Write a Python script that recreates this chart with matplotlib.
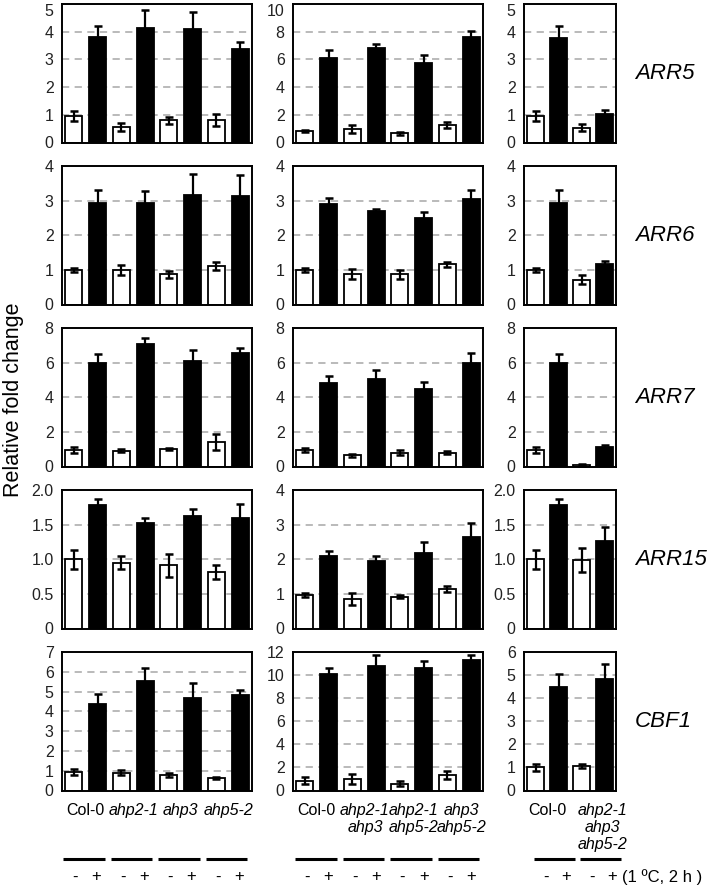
import matplotlib
matplotlib.use("Agg")
import matplotlib.pyplot as plt
import matplotlib.transforms as mtransforms
import numpy as np

plt.rcParams['font.family'] = ['Liberation Sans', 'DejaVu Sans']

genes = ['ARR5', 'ARR6', 'ARR7', 'ARR15', 'CBF1']

# single mutants: Col-0, ahp2-1, ahp3, ahp5-2  (-/+ cold for each)
single_labels = ['Col-0', 'ahp2-1', 'ahp3', 'ahp5-2']
single_mean = [
    [0.95, 3.80, 0.55, 4.12, 0.80, 4.08, 0.82, 3.36],
    [1.00, 2.93, 1.00, 2.92, 0.87, 3.15, 1.12, 3.12],
    [0.95, 5.95, 0.92, 7.05, 1.00, 6.10, 1.40, 6.55],
    [1.00, 1.79, 0.95, 1.53, 0.91, 1.62, 0.81, 1.60],
    [0.95, 4.35, 0.90, 5.55, 0.80, 4.65, 0.65, 4.85],
]
single_err = [
    [0.17, 0.41, 0.14, 0.68, 0.13, 0.63, 0.22, 0.27],
    [0.06, 0.37, 0.14, 0.35, 0.10, 0.62, 0.11, 0.62],
    [0.17, 0.56, 0.08, 0.40, 0.06, 0.65, 0.46, 0.31],
    [0.135, 0.08, 0.09, 0.06, 0.165, 0.10, 0.10, 0.20],
    [0.15, 0.55, 0.14, 0.62, 0.10, 0.80, 0.05, 0.23],
]

# double mutants
double_labels = ['Col-0', 'ahp2-1\nahp3', 'ahp2-1\nahp5-2', 'ahp3\nahp5-2']
double_mean = [
    [0.85, 6.10, 0.95, 6.80, 0.65, 5.75, 1.25, 7.60],
    [1.00, 2.90, 0.88, 2.70, 0.88, 2.50, 1.16, 3.05],
    [0.95, 4.85, 0.65, 5.05, 0.80, 4.45, 0.80, 5.95],
    [0.97, 2.10, 0.85, 1.95, 0.92, 2.18, 1.15, 2.63],
    [0.85, 10.1, 1.00, 10.75, 0.60, 10.6, 1.35, 11.3],
]
double_err = [
    [0.08, 0.55, 0.28, 0.28, 0.10, 0.57, 0.22, 0.48],
    [0.05, 0.18, 0.14, 0.05, 0.13, 0.18, 0.08, 0.25],
    [0.10, 0.35, 0.10, 0.55, 0.15, 0.43, 0.10, 0.58],
    [0.05, 0.14, 0.17, 0.14, 0.04, 0.32, 0.09, 0.41],
    [0.30, 0.50, 0.40, 1.00, 0.20, 0.60, 0.35, 0.40],
]

# triple mutant
triple_labels = ['Col-0', 'ahp2-1\nahp3\nahp5-2']
triple_mean = [
    [0.95, 3.77, 0.53, 1.02],
    [1.00, 2.93, 0.72, 1.18],
    [0.95, 5.97, 0.10, 1.10],
    [1.00, 1.79, 0.99, 1.26],
    [1.00, 4.50, 1.05, 4.85],
]
triple_err = [
    [0.17, 0.42, 0.12, 0.14],
    [0.05, 0.37, 0.12, 0.07],
    [0.15, 0.55, 0.05, 0.15],
    [0.135, 0.08, 0.17, 0.21],
    [0.15, 0.55, 0.08, 0.65],
]

# y-axis ranges (max, step) per row
single_yax = [(5, 1), (4, 1), (8, 2), (2.0, 0.5), (7, 1)]
double_yax = [(10, 2), (4, 1), (8, 2), (4, 1), (12, 2)]
triple_yax = [(5, 1), (4, 1), (8, 2), (2.0, 0.5), (6, 1)]

W, H = 711, 885
fig = plt.figure(figsize=(W / 100, H / 100), dpi=100)

col_left = [62, 293, 524]
col_width = [190, 190, 92]
row_top = [4, 166, 328, 490, 652]
row_h = 138.5
# the labels under the triple-mutant panel sit a little to the right
text_shift = [0.0, 0.03, 0.4]
mark_shift = [0.0, 0.05, 0.4]

columns = [
    (single_mean, single_err, single_yax, single_labels),
    (double_mean, double_err, double_yax, double_labels),
    (triple_mean, triple_err, triple_yax, triple_labels),
]


def fmt_tick(v, step):
    if v == 0:
        return '0'
    if step < 1:
        return f'{v:.1f}'
    return f'{int(round(v))}'


bottom_axes = []
for r in range(5):
    for c, (means, errs, yax, labels) in enumerate(columns):
        ax = fig.add_axes([col_left[c] / W, 1 - (row_top[r] + row_h) / H,
                           col_width[c] / W, row_h / H])
        vals = means[r]
        ers = errs[r]
        x = np.arange(len(vals))
        colors = ['white' if i % 2 == 0 else 'black' for i in x]
        ax.bar(x, vals, width=0.72, color=colors, edgecolor='black',
               linewidth=1.3, zorder=2)
        ax.errorbar(x, vals, yerr=ers, fmt='none', ecolor='black',
                    elinewidth=1.6, capsize=3.2, capthick=1.8, zorder=3)
        ymax, step = yax[r]
        ticks = np.arange(0, ymax + step / 2, step)
        ax.set_ylim(0, ymax)
        ax.set_xlim(-0.5, len(vals) - 0.5)
        ax.set_yticks(ticks)
        ax.set_yticklabels([fmt_tick(t, step) for t in ticks])
        ax.set_xticks([])
        ax.tick_params(axis='y', length=0, pad=6, labelsize=11.5,
                       colors='#222222')
        if r == 0:
            # keep the top label inside the figure
            ax.get_yticklabels()[-1].set_va('top')
        ax.yaxis.grid(True, color='#b4b4b4', linewidth=1.3,
                      linestyle=(0, (4, 3)))
        ax.set_axisbelow(True)
        for sp in ax.spines.values():
            sp.set_linewidth(1.4)
        if r == 4:
            bottom_axes.append((ax, labels, text_shift[c], mark_shift[c]))
    fig.text(635 / W, 1 - (row_top[r] + row_h / 2) / H, genes[r],
             fontsize=16, style='italic', ha='left', va='center')

fig.text(14 / W, 1 - 400 / H, 'Relative fold change', rotation=90,
         fontsize=15.5, ha='center', va='center')

# genotype labels, group lines and -/+ marks under the last row
for ax, labels, tdx, mdx in bottom_axes:
    tr = mtransforms.blended_transform_factory(ax.transData, fig.transFigure)
    for g, lab in enumerate(labels):
        style = 'normal' if lab == 'Col-0' else 'italic'
        ax.text(2 * g + tdx * g + 0.5, 1 - 803 / H, lab, transform=tr,
                ha='center', va='top', fontsize=11.5, style=style,
                linespacing=1.15, clip_on=False)
        x0 = 2 * g + mdx
        ax.plot([x0 - 0.45, x0 + 1.3], [1 - 859 / H] * 2, transform=tr,
                color='black', linewidth=2.2, clip_on=False,
                solid_capstyle='butt')
        ax.text(x0 + 0.05, 1 - 877 / H, '-', transform=tr, ha='center',
                va='center', fontsize=12, clip_on=False)
        ax.text(x0 + 0.95, 1 - 877 / H, '+', transform=tr, ha='center',
                va='center', fontsize=12, clip_on=False)

last_ax, _, _, last_dx = bottom_axes[-1]
tr = mtransforms.blended_transform_factory(last_ax.transData, fig.transFigure)
last_ax.text(3.35 + last_dx, 1 - 877 / H, '(1 ºC, 2 h )', transform=tr,
             ha='left', va='center', fontsize=12, clip_on=False)

fig.savefig('out.png', dpi=100)
